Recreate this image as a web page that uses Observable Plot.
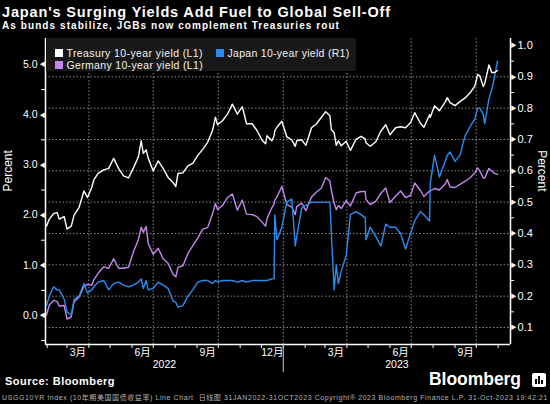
<!DOCTYPE html>
<html><head><meta charset="utf-8">
<script src="https://cdn.jsdelivr.net/npm/d3@7"></script>
<script src="https://cdn.jsdelivr.net/npm/@observablehq/plot@0.6"></script>
<style>
html,body{margin:0;padding:0;background:#000;}
#wrap{position:relative;width:550px;height:404px;overflow:hidden;background:#000;font-family:"Liberation Sans",Arial,"Noto Sans CJK SC",sans-serif;color:#fff;}
.t{position:absolute;white-space:nowrap;line-height:1;}
#title{left:2px;top:4.5px;font-size:14.5px;font-weight:bold;}
#sub{left:2px;top:21px;font-size:10px;font-weight:bold;}
#chart{position:absolute;left:0;top:34px;}
#legend{position:absolute;left:46px;top:38px;width:310px;height:33px;background:#181818;}
.sw{position:absolute;width:8px;height:8px;}
.lt{position:absolute;white-space:nowrap;line-height:1;font-size:10.5px;color:#f2f2f2;}
#source{left:5px;top:376px;font-size:11px;font-weight:bold;}
#logo{left:429px;top:371px;font-size:17.5px;font-weight:bold;}
#icon{position:absolute;left:532px;top:373px;width:14px;height:14px;background:#fff;border-radius:2px;}
#fine{left:2px;top:394px;font-size:7px;color:#b5b5b5;}
</style></head>
<body><div id="wrap">
<div class="t" id="title">Japan's Surging Yields Add Fuel to Global Sell-Off</div>
<div class="t" id="sub">As bunds stabilize, JGBs now complement Treasuries rout</div>
<div id="chart"></div>
<div id="legend"></div>
<div class="t" id="source">Source: Bloomberg</div>
<div class="t" id="logo">Bloomberg</div>
<div id="icon"><svg width="14" height="14"><rect x="3" y="6" width="2" height="5" fill="#000"/><rect x="6" y="3" width="2" height="8" fill="#000"/><rect x="9" y="7" width="2" height="4" fill="#000"/></svg></div>
<div class="t" id="fine">USGG10YR Index (10年期美国国债收益率) Line Chart &nbsp;日线图 31JAN2022-31OCT2023 Copyright® 2023 Bloomberg Finance L.P. 31-Oct-2023 19:42:21</div>
</div>
<script>
// ---------- data ----------
const dates = [
"2022-01-31","2022-02-04","2022-02-10","2022-02-15","2022-02-18","2022-02-25",
"2022-03-01","2022-03-07","2022-03-11","2022-03-18","2022-03-25","2022-03-30",
"2022-04-05","2022-04-08","2022-04-14","2022-04-22","2022-04-29",
"2022-05-06","2022-05-13","2022-05-20","2022-05-27",
"2022-06-03","2022-06-10","2022-06-14","2022-06-17","2022-06-21","2022-06-24",
"2022-07-01","2022-07-08","2022-07-15","2022-07-22","2022-07-29",
"2022-08-02","2022-08-05","2022-08-12","2022-08-19","2022-08-26",
"2022-09-02","2022-09-09","2022-09-16","2022-09-23","2022-09-27","2022-09-30",
"2022-10-07","2022-10-14","2022-10-21","2022-10-28",
"2022-11-04","2022-11-10","2022-11-18","2022-11-25",
"2022-12-02","2022-12-07","2022-12-09","2022-12-16","2022-12-19","2022-12-20","2022-12-23","2022-12-30",
"2023-01-06","2023-01-13","2023-01-18","2023-01-20","2023-01-27",
"2023-02-02","2023-02-10","2023-02-17","2023-02-24",
"2023-03-02","2023-03-08","2023-03-10","2023-03-14","2023-03-17","2023-03-20","2023-03-24","2023-03-31",
"2023-04-06","2023-04-14","2023-04-21","2023-04-27","2023-04-28",
"2023-05-04","2023-05-12","2023-05-19","2023-05-26",
"2023-06-01","2023-06-09","2023-06-16","2023-06-23","2023-06-30",
"2023-07-06","2023-07-14","2023-07-19","2023-07-27","2023-07-28",
"2023-08-03","2023-08-10","2023-08-18","2023-08-21","2023-08-25",
"2023-09-01","2023-09-08","2023-09-15","2023-09-22","2023-09-29",
"2023-10-03","2023-10-06","2023-10-11","2023-10-13","2023-10-19","2023-10-23","2023-10-27","2023-10-31"];

const treasury = [
1.78,1.92,2.03,2.05,1.92,1.97,
1.72,1.78,2.00,2.15,2.48,2.35,
2.55,2.70,2.83,2.90,2.93,
3.13,2.93,2.78,2.74,
2.94,3.16,3.48,3.23,3.30,3.13,
2.88,3.08,2.93,2.75,2.65,
2.57,2.83,2.84,2.98,3.03,
3.19,3.31,3.45,3.69,3.95,3.80,
3.88,4.01,4.21,4.01,
4.16,3.82,3.82,3.68,
3.49,3.42,3.58,3.48,3.58,3.68,3.75,3.87,
3.56,3.50,3.37,3.48,3.50,
3.39,3.74,3.82,3.95,
4.06,3.98,3.70,3.64,3.39,3.48,3.38,3.47,
3.29,3.51,3.57,3.52,3.44,
3.37,3.46,3.67,3.80,
3.60,3.74,3.76,3.74,3.84,
4.04,3.83,3.75,4.00,3.95,
4.18,4.08,4.25,4.34,4.24,
4.18,4.26,4.33,4.43,4.57,
4.80,4.78,4.56,4.62,4.99,4.84,4.84,4.88];

const germany = [
0.01,0.21,0.30,0.28,0.19,0.20,
-0.07,-0.03,0.27,0.37,0.58,0.62,
0.60,0.71,0.84,0.97,0.94,
1.13,0.94,0.94,0.96,
1.27,1.51,1.76,1.66,1.77,1.43,
1.22,1.34,1.13,1.04,0.82,
0.77,0.96,0.99,1.23,1.39,
1.54,1.72,1.75,2.03,2.23,2.11,
2.19,2.35,2.42,2.10,
2.30,2.02,2.01,1.97,
1.86,1.78,1.93,2.15,2.22,2.30,2.36,2.57,
2.21,2.16,2.01,2.17,2.24,
2.09,2.36,2.46,2.54,
2.75,2.68,2.50,2.23,2.11,2.19,2.13,2.29,
2.18,2.44,2.47,2.47,2.31,
2.21,2.28,2.43,2.54,
2.25,2.38,2.48,2.35,2.39,
2.64,2.49,2.37,2.48,2.48,
2.53,2.50,2.62,2.71,2.56,
2.55,2.61,2.67,2.74,2.84,
2.94,2.88,2.74,2.74,2.93,2.88,2.83,2.81];

const japan = [
0.17,0.20,0.23,0.22,0.22,0.19,
0.15,0.14,0.19,0.20,0.24,0.21,
0.22,0.23,0.245,0.25,0.22,
0.24,0.245,0.235,0.23,
0.235,0.245,0.255,0.225,0.25,0.22,
0.225,0.245,0.235,0.225,0.185,
0.18,0.165,0.17,0.20,0.22,
0.245,0.25,0.25,0.24,0.25,0.245,
0.25,0.25,0.25,0.245,
0.25,0.245,0.25,0.25,
0.25,0.25,0.25,0.255,0.255,0.46,0.38,0.42,
0.50,0.51,0.36,0.39,0.48,
0.49,0.50,0.50,0.50,
0.50,0.50,0.40,0.22,0.30,0.24,0.28,0.33,
0.46,0.47,0.46,0.45,0.38,
0.42,0.39,0.36,0.43,
0.42,0.42,0.40,0.35,0.40,
0.44,0.47,0.46,0.44,0.56,
0.65,0.58,0.63,0.65,0.66,
0.63,0.65,0.71,0.74,0.765,
0.80,0.80,0.78,0.75,0.83,0.86,0.90,0.95];

const leftTicks = [0,1,2,3,4,5];
const leftMinor = [-0.5,0.5,1.5,2.5,3.5,4.5];
const rightTicks = [0.1,0.2,0.3,0.4,0.5,0.6,0.7,0.8,0.9,1.0];
const rightMinor = [0.15,0.25,0.35,0.45,0.55,0.65,0.75,0.85,0.95];
const rightGrid = [0.1,0.2,0.3,0.4,0.5,0.6,0.7,0.8,0.9];
const quarterLines = ["2022-04-01","2022-07-01","2022-10-01","2023-01-01","2023-04-01","2023-07-01","2023-10-01"];
const monthLabelMonths = ["2022-03","2022-06","2022-09","2022-12","2023-03","2023-06","2023-09"];
const monthLabelText = ["3月","6月","9月","12月","3月","6月","9月"];
const yearLabels = ["2022","2023"];
const seriesNames = ["Treasury 10-year yield (L1)","Japan 10-year yield (R1)","Germany 10-year yield (L1)"];
const seriesColors = ["#ffffff","#2a8cef","#c487ee"];

// ---------- scales ----------
const parse = d3.utcParse("%Y-%m-%d");
const rows = dates.map((d,i)=>({date:parse(d), ust:treasury[i], bund:germany[i], jgb:japan[i]}));
const xDomain = [new Date(Date.UTC(2022,0,29,14)), new Date(Date.UTC(2023,10,18,12))];
const L = [-0.578, 5.518];
const R = [0.0457, 1.0223];
const r2l = r => L[0] + (r-R[0])*(L[1]-L[0])/(R[1]-R[0]);
const W = 550, H = 342, mL = 45, mR = 40, mT = 4, mB = 32;
const msPerPx = (xDomain[1]-xDomain[0])/(W-mL-mR);
const uPerPx = (L[1]-L[0])/(H-mT-mB);
const xOff = (d,px) => new Date(+d + px*msPerPx);
const yOff = (v,px) => v - px*uPerPx;
const monthTicks = d3.utcMonths(new Date(Date.UTC(2022,1,1)), new Date(Date.UTC(2023,10,2)));
const monthLabels = monthLabelMonths.map((m,i)=>{const a=d3.utcParse("%Y-%m")(m); const b=d3.utcMonth.offset(a,1); return {date:new Date((+a + +b)/2), text:monthLabelText[i]};});
const yearSplit = parse("2023-01-01");
const yearPos = [new Date((+xDomain[0] + +yearSplit)/2), new Date((+yearSplit + +xDomain[1])/2)];
const grid = {stroke:"#8a8a8a", strokeDasharray:"1.5,2", strokeWidth:1};
const font = '"Liberation Sans", Arial, "Noto Sans CJK SC", sans-serif';

const chart = Plot.plot({
  width: W, height: H, marginLeft: mL, marginRight: mR, marginTop: mT, marginBottom: mB,
  style: {background:"#000", color:"#fff", fontFamily: font, fontSize:"10.5px", overflow:"visible"},
  x: {type:"utc", domain: xDomain, axis: null},
  y: {domain: L, axis: null},
  marks: [
    Plot.ruleY(rightGrid.map(r2l), grid),
    Plot.ruleX(quarterLines.map(parse), grid),
    Plot.lineY(rows, {x:"date", y:"bund", stroke: seriesColors[2], strokeWidth:1.4}),
    Plot.lineY(rows, {x:"date", y: d => r2l(d.jgb), stroke: seriesColors[1], strokeWidth:1.4}),
    Plot.lineY(rows, {x:"date", y:"ust", stroke: seriesColors[0], strokeWidth:1.4}),
    // axis lines
    Plot.ruleX([xDomain[0], xDomain[1]], {stroke:"#fff", strokeWidth:1.5}),
    Plot.ruleY([L[0]], {stroke:"#fff", strokeWidth:1.5}),
    // left axis
    Plot.ruleY(leftMinor, {x1: xOff(xDomain[0],-4), x2: xDomain[0], stroke:"#fff"}),
    Plot.text(leftTicks, {x: xDomain[0], y: d=>d, text: ()=>"◀", dx:-3, fontSize:6, fill:"#fff"}),
    Plot.text(leftTicks, {x: xDomain[0], y: d=>d, text: d=>d.toFixed(1), dx:-8, textAnchor:"end", fill:"#fff"}),
    // right axis
    Plot.ruleY(rightMinor.map(r2l), {x1: xDomain[1], x2: xOff(xDomain[1],4), stroke:"#fff"}),
    Plot.text(rightTicks, {x: xDomain[1], y: r2l, text: ()=>"▶", dx:3, fontSize:6, fill:"#fff"}),
    Plot.text(rightTicks, {x: xDomain[1], y: r2l, text: d=>d.toFixed(1), dx:7, textAnchor:"start", fill:"#fff", fontSize:11}),
    // axis titles
    Plot.text(["Percent"], {frameAnchor:"left", dx:-37, rotate:-90, fill:"#fff", fontSize:12}),
    Plot.text(["Percent"], {frameAnchor:"right", dx:31, rotate:90, fill:"#fff", fontSize:12}),
    // x axis ticks & labels
    Plot.ruleX(monthTicks, {y1: L[0], y2: yOff(L[0],4), stroke:"#fff"}),
    Plot.ruleX([yearSplit], {y1: L[0], y2: yOff(L[0],28), stroke:"#ccc"}),
    Plot.text(monthLabels, {x:"date", y: L[0], text:"text", dy:8.5, lineAnchor:"middle", fill:"#fff"}),
    Plot.text(yearLabels, {x:(d,i)=>yearPos[i], y: L[0], text: d=>d, dy:20.5, lineAnchor:"middle", fill:"#fff"})
  ]
});
document.getElementById("chart").appendChild(chart);

// legend
const lg = document.getElementById("legend");
const legendPos = [[9,10.5],[170,10.5],[9,22.5]];
seriesNames.forEach((n,i)=>{
  const [x,y] = legendPos[i];
  const sw = document.createElement("div"); sw.className="sw";
  sw.style.left = x+"px"; sw.style.top = y+"px"; sw.style.background = seriesColors[i];
  lg.appendChild(sw);
  const t = document.createElement("div"); t.className="lt"; t.textContent = n;
  t.style.left = (x+11.5)+"px"; t.style.top = (y-0.8)+"px";
  lg.appendChild(t);
  t.dataset.target = i===1 ? 122 : 136.5;
});

function fit(el, target){
  const w = el.getBoundingClientRect().width;
  const n = [...el.textContent].length;
  el.style.letterSpacing = ((target - w)/n) + "px";
}
fit(document.getElementById("title"), 389);
fit(document.getElementById("sub"), 338);
fit(document.getElementById("source"), 110);
fit(document.getElementById("logo"), 92);
fit(document.getElementById("fine"), 546);
document.querySelectorAll(".lt").forEach(el=>fit(el, +el.dataset.target));
</script>
</body></html>
